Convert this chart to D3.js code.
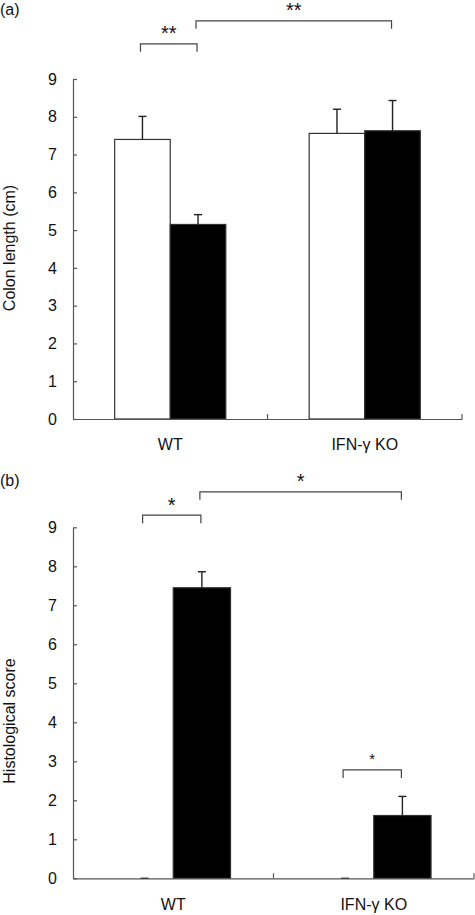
<!DOCTYPE html>
<html>
<head>
<meta charset="utf-8">
<script src="https://cdn.jsdelivr.net/npm/d3@7"></script>
<style>
  html, body { margin: 0; padding: 0; background: #fff; }
  svg { display: block; font-family: "Liberation Sans", Arial, sans-serif; }
</style>
</head>
<body>
<svg id="chart" width="475" height="915"></svg>
<script>
// ---- data ----
const categories = ["WT", "IFN-\u03b3 KO"];
const groups = ["Control", "Treated"];
const yTicks = [0, 1, 2, 3, 4, 5, 6, 7, 8, 9];

const colonLength = [[7.40, 5.15], [7.56, 7.63]];
const colonLengthErr = [[0.61, 0.26], [0.64, 0.80]];

const histScore = [[0, 7.45], [0, 1.61]];
const histScoreErr = [[0, 0.41], [0, 0.49]];

// significance brackets: [categoryIndex, groupIndex] pairs, level in data units
const colonBrackets = [
  { from: [0, 0], to: [0, 1], level: 9.93, label: "**", size: 20 },
  { from: [0, 1], to: [1, 1], level: 10.54, label: "**", size: 20 }
];
const histBrackets = [
  { from: [0, 0], to: [0, 1], level: 9.31, label: "*", size: 20 },
  { from: [0, 1], to: [1, 1], level: 9.91, label: "*", size: 20 },
  { from: [1, 0], to: [1, 1], level: 2.78, label: "*", size: 15 }
];

const groupColors = ["#ffffff", "#000000"];

const svg = d3.select("#chart");

function panel(opts) {
  const { values, errs, brackets, top, bottom, left, right, panelLabel, labelY,
          yTitle, yTitleY, catLabelY } = opts;
  const g = svg.append("g");

  const y = d3.scaleLinear().domain([0, 9]).range([bottom, top]);
  const x = d3.scaleBand().domain(categories).range([left, right]).paddingInner(0).paddingOuter(0);
  const xi = d3.scaleBand().domain(groups).range([0, x.bandwidth()]).paddingInner(0).paddingOuter(0.75);

  const cx = (ci, gi) => x(categories[ci]) + xi(groups[gi]) + xi.bandwidth() / 2;

  // bars
  values.forEach((row, ci) => {
    row.forEach((v, gi) => {
      const bx = x(categories[ci]) + xi(groups[gi]);
      g.append("rect")
        .attr("x", bx)
        .attr("y", y(v))
        .attr("width", xi.bandwidth())
        .attr("height", y(0) - y(v))
        .attr("fill", groupColors[gi])
        .attr("stroke", v > 0 ? "#333" : "none")
        .attr("stroke-width", 1.2);
      // error bar (upper only)
      const e = errs[ci][gi];
      const c = cx(ci, gi);
      g.append("line")
        .attr("x1", c).attr("x2", c)
        .attr("y1", y(v)).attr("y2", y(v + e))
        .attr("stroke", "#222").attr("stroke-width", 1.4);
      g.append("line")
        .attr("x1", c - 4).attr("x2", c + 4)
        .attr("y1", y(v + e)).attr("y2", y(v + e))
        .attr("stroke", "#222").attr("stroke-width", 1.4);
    });
  });

  // y axis
  const yAxis = d3.axisLeft(y).tickValues(yTicks).tickSize(-4).tickPadding(16).tickSizeOuter(0);
  const ya = g.append("g").attr("transform", `translate(${left},0)`).call(yAxis);
  ya.select(".domain").attr("stroke", "#555").attr("stroke-width", 1.2);
  ya.selectAll(".tick line").attr("stroke", "#555").attr("stroke-width", 1.2);
  ya.selectAll(".tick text").attr("font-size", 16).attr("fill", "#111")
    .attr("font-family", "Liberation Sans, Arial, sans-serif");

  // x axis
  const xAxis = d3.axisBottom(x).tickSize(0).tickPadding(0).tickSizeOuter(0);
  const xa = g.append("g").attr("transform", `translate(0,${bottom})`).call(xAxis);
  xa.select(".domain").attr("stroke", "#555").attr("stroke-width", 1.2);
  xa.selectAll(".tick line").remove();
  xa.selectAll(".tick text")
    .attr("y", catLabelY - bottom)
    .attr("dy", 0)
    .attr("font-size", 16).attr("fill", "#111")
    .attr("font-family", "Liberation Sans, Arial, sans-serif");
  // band boundary ticks (inward)
  categories.forEach((c, i) => {
    const bx = x(c) + x.bandwidth();
    g.append("line").attr("x1", bx).attr("x2", bx)
      .attr("y1", bottom).attr("y2", bottom - 5)
      .attr("stroke", "#555").attr("stroke-width", 1.2);
  });

  // y title
  g.append("text")
    .attr("transform", `translate(15,${yTitleY}) rotate(-90)`)
    .attr("text-anchor", "middle")
    .attr("font-size", 16).attr("fill", "#111")
    .text(yTitle);

  // panel label
  g.append("text").attr("x", 0).attr("y", labelY)
    .attr("font-size", 16).attr("fill", "#111").text(panelLabel);

  // brackets
  brackets.forEach(b => {
    const x1 = cx(b.from[0], b.from[1]) - 2;
    const x2 = cx(b.to[0], b.to[1]) - 1;
    const yy = y(b.level);
    g.append("path")
      .attr("d", `M${x1},${yy + 8}V${yy}H${x2}V${yy + 8}`)
      .attr("fill", "none").attr("stroke", "#444").attr("stroke-width", 1.2);
    g.append("text")
      .attr("x", (x1 + x2) / 2)
      .attr("y", yy + b.size * 0.575 - 15)
      .attr("text-anchor", "middle")
      .attr("font-size", b.size).attr("fill", "#111")
      .text(b.label);
  });
}

panel({
  values: colonLength, errs: colonLengthErr, brackets: colonBrackets,
  top: 79, bottom: 419, left: 73, right: 462,
  panelLabel: "(a)", labelY: 15,
  yTitle: "Colon length (cm)", yTitleY: 248, catLabelY: 450
});

panel({
  values: histScore, errs: histScoreErr, brackets: histBrackets,
  top: 527.3, bottom: 878.3, left: 73, right: 474,
  panelLabel: "(b)", labelY: 486,
  yTitle: "Histological score", yTitleY: 721, catLabelY: 910
});
</script>
</body>
</html>
